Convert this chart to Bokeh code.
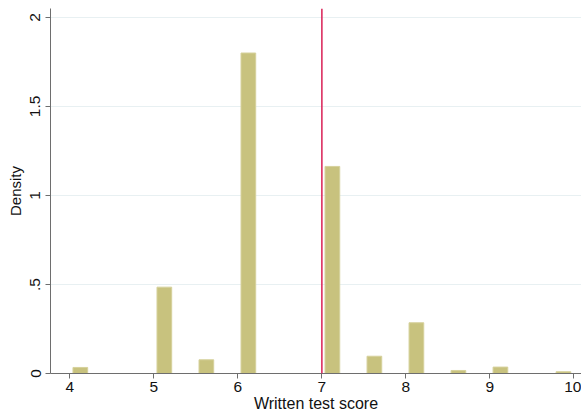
from bokeh.plotting import figure
from bokeh.models import Range1d, Span, FixedTicker
from bokeh.embed import file_html
from bokeh.resources import INLINE

# data
bin_centers = [4.125, 5.125, 5.625, 6.125, 7.125, 7.625, 8.125, 8.625, 9.125, 9.875]
densities = [0.034, 0.485, 0.077, 1.80, 1.163, 0.097, 0.285, 0.017, 0.036, 0.010]
cutoff = 7
x_ticks = [4, 5, 6, 7, 8, 9, 10]
y_ticks = [0, 0.5, 1, 1.5, 2]
y_tick_labels = ["0", ".5", "1", "1.5", "2"]

FONT = "Liberation Sans"

p = figure(frame_width=531, frame_height=365, output_backend="svg",
           toolbar_location=None,
           x_range=Range1d(3.77, 10.09), y_range=Range1d(0, 2.05))
p.min_border_left = 50
p.min_border_right = 0
p.min_border_top = 8
p.min_border_bottom = 0
p.outline_line_color = None
p.background_fill_color = "white"
p.border_fill_color = "white"

p.vbar(x=bin_centers, top=densities, bottom=0, width=0.175,
       fill_color="#c8c27e", line_color="#d6d19c", line_width=1)

p.add_layout(Span(location=cutoff, dimension="height",
                  line_color="#d91f55", line_width=1.5))

# x axis
xa = p.xaxis[0]
xa.ticker = FixedTicker(ticks=x_ticks)
xa.axis_label = "Written test score"
xa.axis_label_text_font = FONT
xa.axis_label_text_font_size = "16px"
xa.axis_label_text_font_style = "normal"
xa.axis_label_text_color = "#111111"
xa.axis_label_standoff = 0
xa.major_label_text_font = FONT
xa.major_label_text_font_size = "15.5px"
xa.major_label_text_color = "#111111"
xa.major_label_standoff = 3
xa.axis_line_color = "#6e6e6e"
xa.major_tick_line_color = "#6e6e6e"
xa.major_tick_out = 5
xa.major_tick_in = 0
xa.minor_tick_line_color = None

# y axis
ya = p.yaxis[0]
ya.ticker = FixedTicker(ticks=y_ticks)
ya.major_label_overrides = {t: l for t, l in zip(y_ticks, y_tick_labels)}
ya.major_label_orientation = "vertical"
ya.axis_label = "Density"
ya.axis_label_text_font = FONT
ya.axis_label_text_font_size = "15px"
ya.axis_label_text_font_style = "normal"
ya.axis_label_text_color = "#111111"
ya.axis_label_standoff = 4
ya.major_label_text_font = FONT
ya.major_label_text_font_size = "15.5px"
ya.major_label_text_color = "#111111"
ya.major_label_standoff = 5
ya.axis_line_color = "#6e6e6e"
ya.major_tick_line_color = "#6e6e6e"
ya.major_tick_out = 5
ya.major_tick_in = 0
ya.minor_tick_line_color = None

p.xgrid.grid_line_color = None
p.ygrid.grid_line_color = "#e8f0f2"
p.ygrid.grid_line_width = 1

open("out.html", "w").write(file_html(p, INLINE))
